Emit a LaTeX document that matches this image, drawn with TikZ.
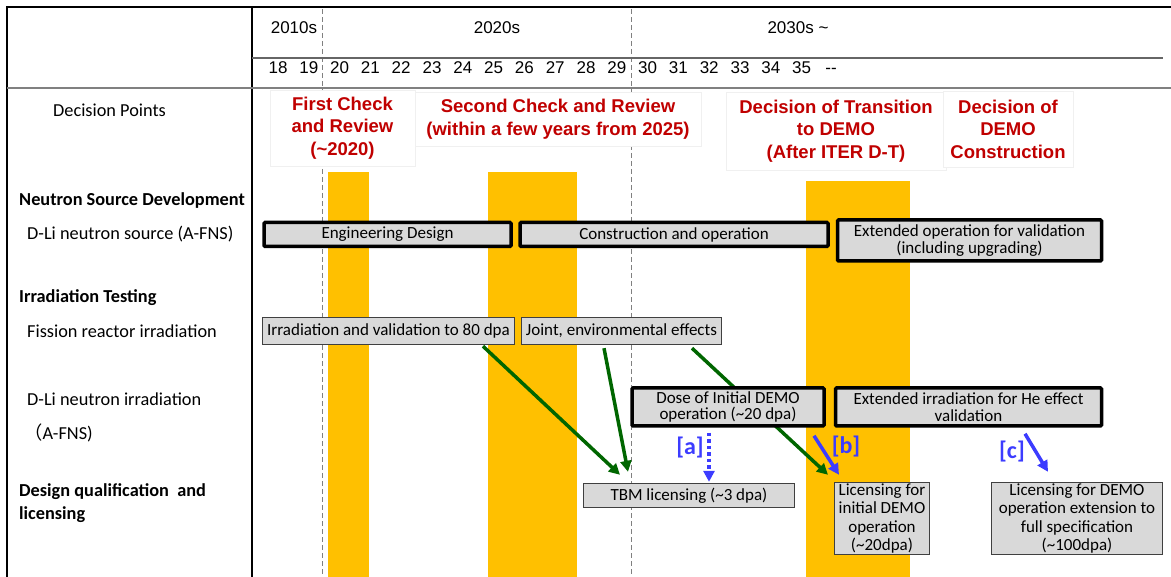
\documentclass[tikz,border=0pt]{standalone}
\usepackage{fontspec}
\setmainfont{Carlito}
\newfontfamily\arialf{Liberation Sans}
\newfontfamily\cjkf{Noto Sans CJK JP}
\usetikzlibrary{arrows.meta,calc}
\definecolor{barc}{HTML}{FFC000}
\definecolor{boxgray}{HTML}{D9D9D9}
\definecolor{redt}{HTML}{C00000}
\definecolor{greena}{HTML}{006600}
\definecolor{bluea}{HTML}{3C3CFF}
\definecolor{linegray}{HTML}{808080}
\begin{document}
\begin{tikzpicture}[x=1pt,y=-1pt,
  thickbox/.style={draw=black, line width=3.5pt, fill=boxgray, rounded corners=1pt, align=center, inner sep=0pt, font=\fontsize{17}{16.5}\selectfont},
  thinbox/.style={draw=black!75, line width=1.4pt, fill=boxgray, align=center, inner sep=0pt, font=\fontsize{17}{18.5}\selectfont},
  decbox/.style={draw=black!6, line width=0.8pt, fill=white, align=center, inner sep=0pt, text=redt, font=\arialf\bfseries\fontsize{18.5}{22.5}\selectfont},
  lbl/.style={anchor=west, inner sep=0pt, font=\fontsize{18.3}{20}\selectfont},
  blbl/.style={anchor=west, inner sep=0pt, font=\bfseries\fontsize{18.3}{23}\selectfont, align=left},
  yr/.style={inner sep=0pt, font=\arialf\fontsize{17}{18}\selectfont},
  garrow/.style={draw=greena, line width=3.5pt, -{Triangle[length=11pt,width=11pt]}},
  barrow/.style={draw=bluea, line width=3.5pt, -{Triangle[length=11pt,width=11pt]}},
  blab/.style={text=bluea, inner sep=0pt, font=\bfseries\fontsize{24}{24}\selectfont},
  dashln/.style={draw=linegray, line width=1pt, dash pattern=on 5pt off 3pt}
]
\useasboundingbox (0,0) rectangle (1171,577);
% orange bars
\fill[barc] (328,172) rectangle (369,577);
\fill[barc] (488,172) rectangle (577,577);
\fill[barc] (806,181) rectangle (910,577);
% dashed lines
\draw[dashln] (322,9) -- (322,577);
\draw[dashln] (631,9) -- (631,577);
% frame
\draw[black, line width=1.6pt] (7,577) -- (7,7) -- (1171,7);
\draw[black, line width=1.3pt] (252,7) -- (252,577);
\draw[black!60, line width=1.2pt] (252,58) -- (1163,58);
\draw[linegray, line width=1.2pt] (7,88) -- (1171,88);
% decades and years
\node[yr] (d1) at (294,28) {2010s};
\node[yr] (d2) at (497,28) {2020s};
\node[yr] (d3) at (798,28) {2030s \textasciitilde};
\foreach \y [count=\i from 0] in {18,19,20,21,22,23,24,25,26,27,28,29,30,31,32,33,34,35}
  \node[yr] (y\y) at ({278+30.8*\i},68) {\y};
\node[yr, anchor=base] (ydash) at (831,74) {{-}{-}};
% decision boxes
\node[decbox, minimum width=145pt, minimum height=76pt] (dp1) at (342.5,128) {First Check\\and Review\\(\textasciitilde2020)};
\node[decbox, minimum width=286pt, minimum height=54pt] (dp2) at (558,119) {Second Check and Review\\(within a few years from 2025)};
\node[decbox, minimum width=220pt, minimum height=78pt] (dp3) at (836,131) {Decision of Transition\\to DEMO\\(After ITER D-T)};
\node[decbox, minimum width=130pt, minimum height=76pt] (dp4) at (1008,129) {Decision of\\DEMO\\Construction};
% left labels
\node[lbl] (lDP) at (53,110) {Decision Points};
\node[blbl] (lNS) at (19,201) {Neutron Source Development};
\node[lbl] (lDL) at (27,234) {D-Li neutron source (A-FNS)};
\node[blbl] (lIT) at (19,298) {Irradiation Testing};
\node[lbl] (lFR) at (27,331) {Fission reactor irradiation};
\node[lbl] (lDI) at (27,399) {D-Li neutron irradiation};
\node[lbl] (lAF) at (24,433) {{\cjkf （}A-FNS)};
\node[blbl] (lDQ) at (19,503) {Design qualification\ \ and\\licensing};
% thin boxes and green arrows (behind thick boxes)
\node[thinbox, minimum width=252pt, minimum height=27pt] (irr) at (388.5,331) {Irradiation and validation to 80 dpa};
\node[thinbox, minimum width=200pt, minimum height=27pt] (joint) at (621.5,331) {Joint, environmental effects};
\node[thinbox, minimum width=211pt, minimum height=24pt] (tbm) at (689,495.5) {TBM licensing (\textasciitilde3 dpa)};
\node[thinbox, minimum width=95pt, minimum height=72pt] (lic1) at (882,518.5) {Licensing for\\initial DEMO\\operation\\(\textasciitilde20dpa)};
\node[thinbox, minimum width=171pt, minimum height=72pt] (lic2) at (1077,518.5) {Licensing for DEMO\\operation extension to\\full specification\\(\textasciitilde100dpa)};
\draw[garrow] ([xshift=94.5pt,yshift=-1pt]irr.south) -- ([xshift=-69pt,yshift=8pt]tbm.north);
\draw[garrow] ([xshift=-17.5pt,yshift=-3pt]joint.south) -- ([xshift=-61pt,yshift=11pt]tbm.north);
\draw[garrow] ([xshift=70.5pt,yshift=-3pt]joint.south) -- ([xshift=-54pt,yshift=7pt]lic1.north);
% thick boxes
\node[thickbox, minimum width=247pt, minimum height=24pt] (eng) at (387.5,234.5) {Engineering Design};
\node[thickbox, minimum width=308pt, minimum height=24pt] (cons) at (674,234.5) {Construction and operation};
\node[thickbox, minimum width=264pt, minimum height=41pt] (ext) at (969.5,240.5) {Extended operation for validation\\(including upgrading)};
\node[thickbox, minimum width=192pt, minimum height=38pt] (dose) at (728,407) {Dose of Initial DEMO\\operation (\textasciitilde20 dpa)};
\node[thickbox, minimum width=266pt, minimum height=38pt] (exirr) at (968.5,407) {Extended irradiation for He effect\\validation};
% blue arrows
\draw[barrow, dash pattern=on 3.5pt off 3pt] ([xshift=-19pt,yshift=-5pt]dose.south) -- ([xshift=20pt,yshift=1pt]tbm.north);
\draw[barrow] ([xshift=86pt,yshift=-8pt]dose.south) -- ([xshift=-43pt,yshift=7pt]lic1.north);
\draw[barrow] ([xshift=56.5pt,yshift=-6pt]exirr.south) -- ([xshift=-29pt,yshift=10pt]lic2.north);
\node[blab] (la) at (690,448) {[a]};
\node[blab] (lb) at (846,447) {[b]};
\node[blab] (lc) at (1012,452) {[c]};
\end{tikzpicture}
\end{document}
